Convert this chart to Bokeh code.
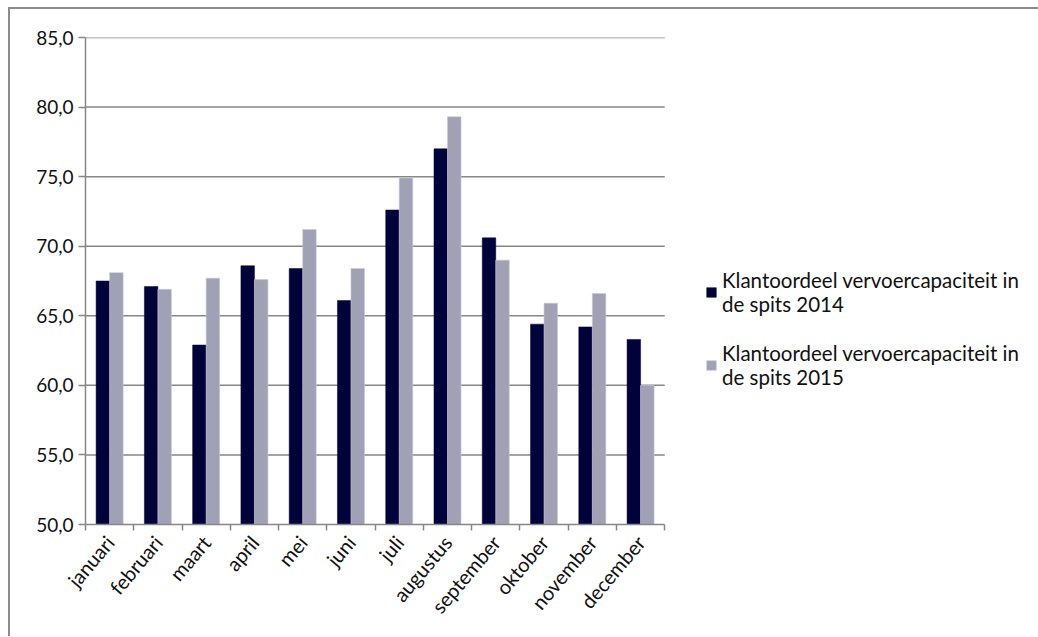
import numpy as np
from bokeh.plotting import figure
from bokeh.models import (Range1d, FixedTicker, CustomJSTickFormatter, Legend, LegendItem)
from bokeh.embed import file_html
from bokeh.resources import INLINE

months = ["januari", "februari", "maart", "april", "mei", "juni", "juli",
          "augustus", "september", "oktober", "november", "december"]
values_2014 = [67.5, 67.1, 62.9, 68.6, 68.4, 66.1, 72.6, 77.0, 70.6, 64.4, 64.2, 63.3]
values_2015 = [68.1, 66.9, 67.7, 67.6, 71.2, 68.4, 74.9, 79.3, 69.0, 65.9, 66.6, 60.0]
series_names = ["Klantoordeel vervoercapaciteit in\nde spits 2014",
                "Klantoordeel vervoercapaciteit in\nde spits 2015"]
y_ticks = [50, 55, 60, 65, 70, 75, 80, 85]

FONT = "Lato"
C14 = "#02023A"
C15 = "#A0A1B5"
GRID = "#878787"

n = len(months)
centers = np.arange(n) + 0.5
bw = 0.28

# layout: the frame continues to the right so the legend can sit inside it
W, H = 1030, 629
LEFT, TOP, BOTTOM = 75, 28, 114
frame_w = W - 2 - LEFT
plot_w = 578  # pixel width of the bar area
x_end = n * frame_w / plot_w

p = figure(width=W, height=H, output_backend="svg", toolbar_location=None,
           x_range=Range1d(0, x_end), y_range=Range1d(y_ticks[0], y_ticks[-1]),
           min_border_left=LEFT, min_border_right=0, min_border_top=TOP,
           min_border_bottom=BOTTOM)
p.styles = {"border-top": "2px solid #8c8c8c", "border-left": "2px solid #8c8c8c",
            "box-sizing": "border-box", "margin-left": "8px", "margin-top": "7px"}
p.outline_line_color = None
p.background_fill_color = "white"
p.border_fill_color = "white"

# horizontal gridlines limited to the bar area
p.segment(x0=0, x1=n, y0=y_ticks[1:], y1=y_ticks[1:], line_color=GRID, line_width=1.5)

r1 = p.vbar(x=centers - bw / 2, top=values_2014, bottom=y_ticks[0], width=bw,
            fill_color=C14, line_color=C14, line_width=0.5)
r2 = p.vbar(x=centers + bw / 2, top=values_2015, bottom=y_ticks[0], width=bw,
            fill_color=C15, line_color="#C8C9D4", line_width=0.6)

# x axis: labels at category centres, ticks at category boundaries
p.xaxis.bounds = (0, n)
p.xaxis.ticker = FixedTicker(ticks=list(centers), minor_ticks=list(range(n + 1)))
p.xaxis.major_label_overrides = {float(c): m for c, m in zip(centers, months)}
p.xaxis.major_tick_out = 0
p.xaxis.major_tick_in = 0
p.xaxis.minor_tick_out = 6
p.xaxis.minor_tick_in = 0
p.xaxis.minor_tick_line_color = GRID
p.xaxis.minor_tick_line_width = 1.5
p.xaxis.major_label_orientation = 0.87
p.xaxis.major_label_standoff = 8
p.xaxis.axis_line_color = GRID
p.xaxis.axis_line_width = 1.5
p.xaxis.major_label_text_font = FONT
p.xaxis.major_label_text_font_size = "20px"
p.xaxis.major_label_text_color = "#111111"

p.yaxis.ticker = FixedTicker(ticks=y_ticks)
p.yaxis.formatter = CustomJSTickFormatter(code="return tick.toFixed(1).replace('.', ',');")
p.yaxis.major_tick_out = 7
p.yaxis.major_tick_in = 0
p.yaxis.minor_tick_line_color = None
p.yaxis.major_tick_line_color = GRID
p.yaxis.major_tick_line_width = 1.5
p.yaxis.axis_line_color = GRID
p.yaxis.axis_line_width = 1.5
p.yaxis.major_label_text_font = FONT
p.yaxis.major_label_text_font_size = "19px"
p.yaxis.major_label_text_color = "#111111"
p.yaxis.major_label_standoff = 5

p.xgrid.grid_line_color = None
p.ygrid.grid_line_color = None

legend = Legend(items=[LegendItem(label=series_names[0], renderers=[r1]),
                       LegendItem(label=series_names[1], renderers=[r2])],
                location=(620, 135), padding=0, margin=0, spacing=25,
                glyph_width=12, glyph_height=12, label_standoff=5,
                label_text_font=FONT, label_text_font_size="20.5px",
                label_text_color="#111111", label_text_line_height=1.12,
                border_line_color=None, background_fill_alpha=0)
p.add_layout(legend, "center")

open("out.html", "w").write(file_html(p, INLINE))
